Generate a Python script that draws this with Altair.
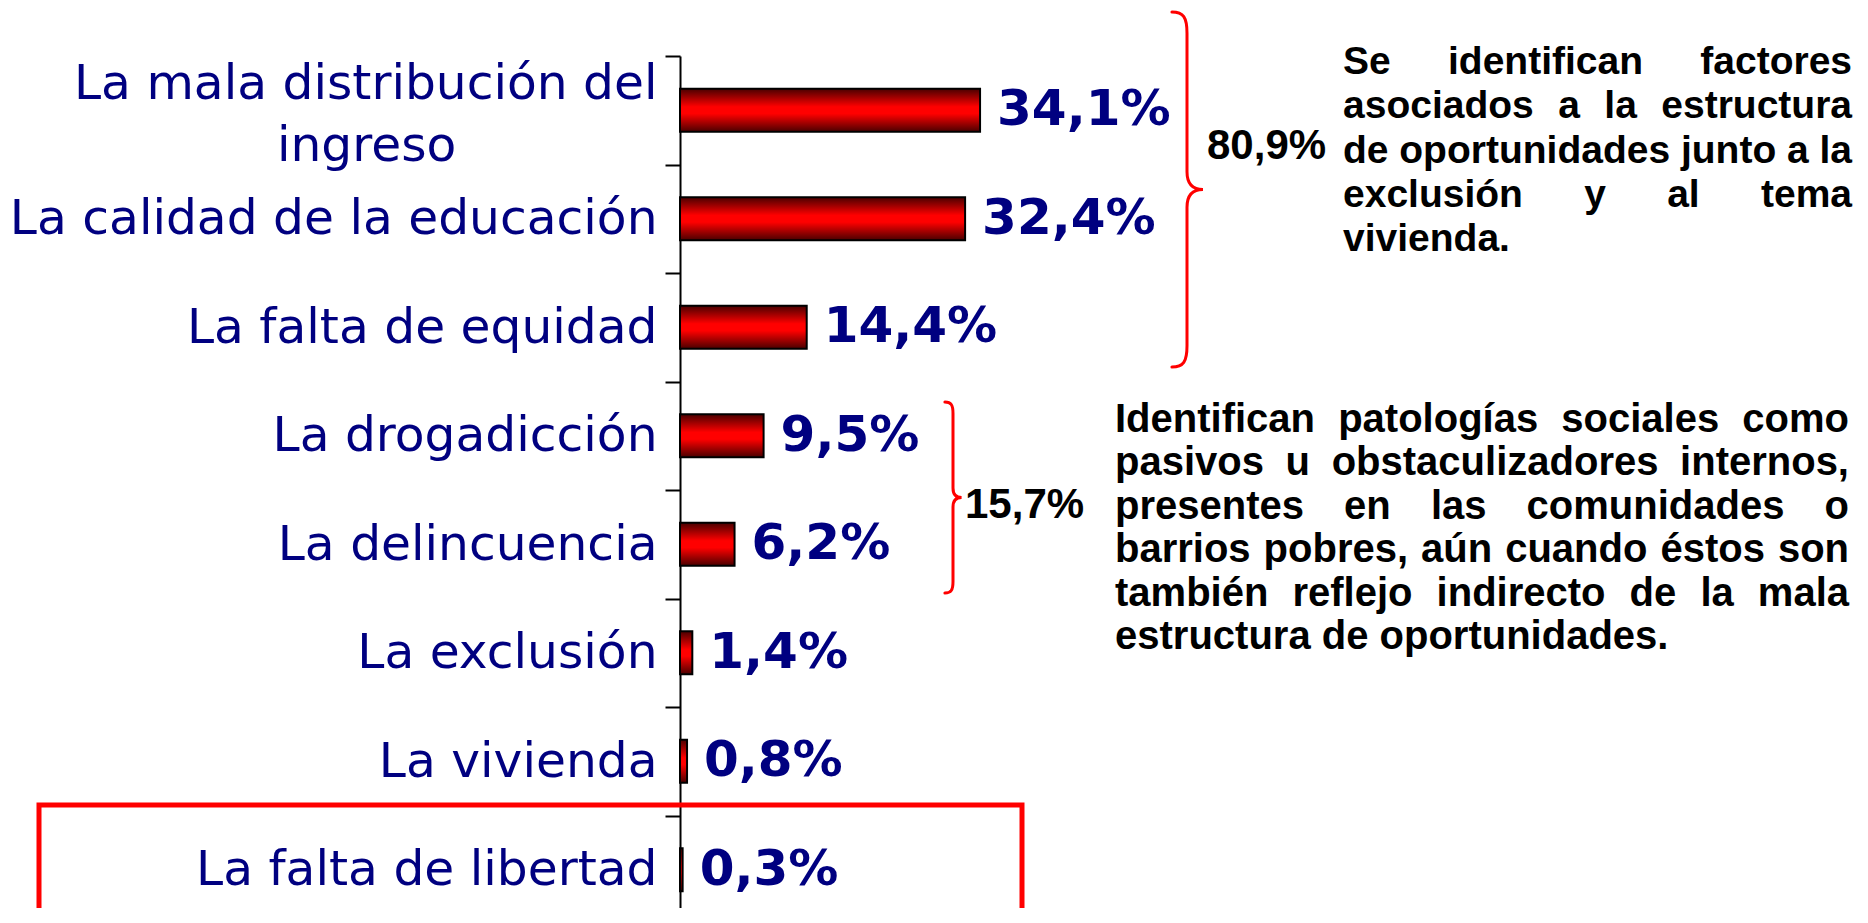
import altair as alt
import pandas as pd

# ---------------- data ----------------
categories = [
    "La mala distribución del ingreso",
    "La calidad de la educación",
    "La falta de equidad",
    "La drogadicción",
    "La delincuencia",
    "La exclusión",
    "La vivienda",
    "La falta de libertad",
]
values = [34.1, 32.4, 14.4, 9.5, 6.2, 1.4, 0.8, 0.3]
highlighted = "La falta de libertad"

group_totals = ["80,9%", "15,7%"]
para1_lines = [
    "Se identifican factores",
    "asociados a la estructura",
    "de oportunidades junto a la",
    "exclusión y al tema",
    "vivienda.",
]
para2_lines = [
    "Identifican patologías sociales como",
    "pasivos u obstaculizadores internos,",
    "presentes en las comunidades o",
    "barrios pobres, aún cuando éstos son",
    "también reflejo indirecto de la mala",
    "estructura de oportunidades.",
]

# ---------------- layout / style ----------------
NAVY = "#000080"
RED = "#ff0000"
PLOT_W, PLOT_H = 1180, 852
BAND_RANGE = 868
XMAX = 134.1

df = pd.DataFrame({"cat": categories, "value": values})
df["label"] = [f"{v:.1f}".replace(".", ",") + "%" for v in values]

# Arial/Liberation Sans Bold advance widths (per 1000 em), used to justify text lines
AW = {' ': 278, 'a': 556, 'b': 611, 'c': 556, 'd': 611, 'e': 556, 'f': 333, 'g': 611,
      'h': 611, 'i': 278, 'j': 278, 'k': 556, 'l': 278, 'm': 889, 'n': 611, 'o': 611,
      'p': 611, 'q': 611, 'r': 389, 's': 556, 't': 333, 'u': 611, 'v': 556, 'w': 778,
      'x': 556, 'y': 556, 'z': 500, 'I': 278, 'S': 667, ',': 278, '.': 278, '%': 889,
      'á': 556, 'é': 556, 'í': 278, 'ó': 611, 'ú': 611}


def justify(lines, left, right, top, step, fs):
    rows = []
    for i, line in enumerate(lines):
        y = top + i * step
        words = line.split(" ")
        if i == len(lines) - 1 or len(words) == 1:
            rows.append({"t": line, "px": left, "py": y})
            continue
        ws = [sum(AW.get(c, 556) for c in w) * fs / 1000.0 for w in words]
        gap = (right - left - sum(ws)) / (len(words) - 1)
        x = left
        for w, wd in zip(words, ws):
            rows.append({"t": w, "px": x, "py": y})
            x += wd + gap
    return rows


p1 = pd.DataFrame(justify(para1_lines, 663, 1172, 18, 44.3, 39))
p2 = pd.DataFrame(justify(para2_lines, 435, 1169, 376, 43.4, 40))
tot = pd.DataFrame({"t": group_totals, "px": [527, 285], "py": [103, 462]})

grad = alt.Gradient(
    gradient="linear",
    stops=[
        alt.GradientStop(color="#4a0000", offset=0),
        alt.GradientStop(color="#ff0000", offset=0.42),
        alt.GradientStop(color="#ff0000", offset=0.58),
        alt.GradientStop(color="#4a0000", offset=1),
    ],
    x1=0, x2=0, y1=0, y2=1,
)

first = categories[0]
label_expr = (
    "datum.value == '" + first + "' ? "
    "['La mala distribución del', 'ingreso" + "\u00a0" * 13 + "\u200b'] : datum.label"
)

Y = alt.Y(
    "cat:N",
    sort=categories,
    scale=alt.Scale(domain=categories, range=[0, BAND_RANGE], paddingInner=0, paddingOuter=0),
    axis=alt.Axis(
        title=None,
        labelFont="DejaVu Sans",
        labelFontSize=48.7,
        labelColor=NAVY,
        labelLimit=900,
        labelPadding=8,
        labelLineHeight=62,
        labelExpr=label_expr,
        labelOffset={"condition": {"test": "datum.value == '" + first + "'", "value": -27}, "value": 0},
        tickSize=15,
        tickWidth=2,
        tickColor="black",
        tickBand="extent",
        domainColor="black",
        domainWidth=2,
        grid=False,
    ),
)
X = alt.X("value:Q", scale=alt.Scale(domain=[0, XMAX], nice=False, zero=True), axis=None)

base = alt.Chart(df)
bars = base.mark_bar(size=43, fill=grad, stroke="black", strokeWidth=2).encode(y=Y, x=X)
vals = base.mark_text(
    align="left", baseline="middle", dx=17, font="DejaVu Sans", fontWeight="bold",
    fontSize=50, color=NAVY,
).encode(y=Y, x=X, text="label:N")
box = base.transform_filter(alt.datum.cat == highlighted).mark_rect(
    fillOpacity=0, stroke=RED, strokeWidth=5, yOffset=-10.5, y2Offset=30,
).encode(y=Y, x=alt.value(-641), x2=alt.value(342))

main = alt.layer(bars, vals, box)

BRACE = ("M -0.085 -1 C -0.02 -1 0 -0.97 0 -0.88 L 0 -0.1 C 0 -0.03 0.03 0 0.09 0 "
         "C 0.03 0 0 0.03 0 0.1 L 0 0.88 C 0 0.97 -0.02 1 -0.085 1")
brace_df = pd.DataFrame({"k": [0]})
brace1 = alt.Chart(brace_df).mark_point(
    shape=BRACE, size=355 ** 2, filled=False, stroke=RED, strokeWidth=3, opacity=1,
    strokeCap="round",
).encode(x=alt.value(507), y=alt.value(133.5))
brace2 = alt.Chart(brace_df).mark_point(
    shape=BRACE, size=191 ** 2, filled=False, stroke=RED, strokeWidth=3, opacity=1,
    strokeCap="round",
).encode(x=alt.value(273), y=alt.value(441.5))


def text_layer(d, fs):
    return alt.Chart(d).mark_text(
        align="left", baseline="alphabetic", font="Liberation Sans", fontWeight="bold",
        fontSize=fs, color="black",
    ).encode(
        x=alt.X("px:Q", scale=None, axis=None),
        y=alt.Y("py:Q", scale=None, axis=None),
        text="t:N",
    )


notes = alt.layer(brace1, brace2, text_layer(p1, 39), text_layer(p2, 40), text_layer(tot, 42))

chart = (
    alt.layer(main, notes)
    .resolve_scale(x="independent", y="independent")
    .properties(
        width=PLOT_W,
        height=PLOT_H,
        autosize=alt.AutoSizeParams(type="none"),
        padding={"left": 672, "top": 48, "right": 0, "bottom": 0},
        background="white",
    )
    .configure_view(stroke=None)
)

chart.save("out.html", embed_options={"renderer": "svg", "actions": False})
